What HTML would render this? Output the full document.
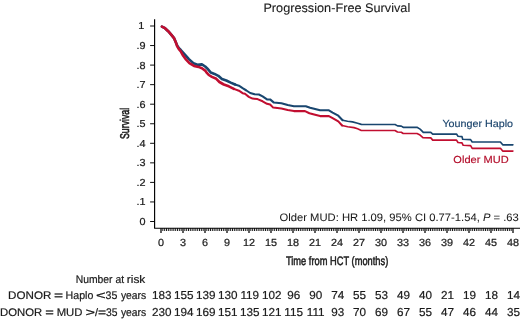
<!DOCTYPE html>
<html lang="en"><head><meta charset="utf-8"><title>Progression-Free Survival</title>
<style>html,body{margin:0;padding:0;background:#fff}body{width:520px;height:319px;overflow:hidden}</style></head>
<body>
<svg width="520" height="319" viewBox="0 0 520 319" style="display:block">
<rect width="520" height="319" fill="#fff"/>
<g font-family="'Liberation Sans', Arial, Helvetica, sans-serif" stroke-linejoin="round" text-rendering="geometricPrecision">
<text transform="translate(336.80,12.30) scale(0.1240,0.1240)" font-size="100" text-anchor="middle" textLength="1183.9" lengthAdjust="spacingAndGlyphs" fill="#1a1a1a" stroke="#1a1a1a" stroke-width="0.81">Progression-Free Survival</text>
<path d="M154.6 19.3V228.2H520" fill="none" stroke="#000" stroke-width="1.15"/>
<path d="M150.1 221.50H154.6M150.1 201.95H154.6M150.1 182.40H154.6M150.1 162.85H154.6M150.1 143.30H154.6M150.1 123.75H154.6M150.1 104.20H154.6M150.1 84.65H154.6M150.1 65.10H154.6M150.1 45.55H154.6M150.1 26.00H154.6" stroke="#000" stroke-width="0.95" fill="none"/>
<text transform="translate(145.50,224.95) scale(0.1081,0.1020)" font-size="100" text-anchor="end" fill="#1a1a1a" stroke="#1a1a1a" stroke-width="2.16">0</text>
<text transform="translate(145.50,205.40) scale(0.1081,0.1020)" font-size="100" text-anchor="end" fill="#1a1a1a" stroke="#1a1a1a" stroke-width="2.16">.1</text>
<text transform="translate(145.50,185.85) scale(0.1081,0.1020)" font-size="100" text-anchor="end" fill="#1a1a1a" stroke="#1a1a1a" stroke-width="2.16">.2</text>
<text transform="translate(145.50,166.30) scale(0.1081,0.1020)" font-size="100" text-anchor="end" fill="#1a1a1a" stroke="#1a1a1a" stroke-width="2.16">.3</text>
<text transform="translate(145.50,146.75) scale(0.1081,0.1020)" font-size="100" text-anchor="end" fill="#1a1a1a" stroke="#1a1a1a" stroke-width="2.16">.4</text>
<text transform="translate(145.50,127.20) scale(0.1081,0.1020)" font-size="100" text-anchor="end" fill="#1a1a1a" stroke="#1a1a1a" stroke-width="2.16">.5</text>
<text transform="translate(145.50,107.65) scale(0.1081,0.1020)" font-size="100" text-anchor="end" fill="#1a1a1a" stroke="#1a1a1a" stroke-width="2.16">.6</text>
<text transform="translate(145.50,88.10) scale(0.1081,0.1020)" font-size="100" text-anchor="end" fill="#1a1a1a" stroke="#1a1a1a" stroke-width="2.16">.7</text>
<text transform="translate(145.50,68.55) scale(0.1081,0.1020)" font-size="100" text-anchor="end" fill="#1a1a1a" stroke="#1a1a1a" stroke-width="2.16">.8</text>
<text transform="translate(145.50,49.00) scale(0.1081,0.1020)" font-size="100" text-anchor="end" fill="#1a1a1a" stroke="#1a1a1a" stroke-width="2.16">.9</text>
<text transform="translate(144.20,29.45) scale(0.1081,0.1020)" font-size="100" text-anchor="end" fill="#1a1a1a" stroke="#1a1a1a" stroke-width="2.16">1</text>
<path d="M162.83 228.2V231.0M164.67 228.2V231.0M166.50 228.2V231.0M168.33 228.2V231.0M170.17 228.2V231.0M172.00 228.2V231.0M173.83 228.2V231.0M175.67 228.2V231.0M177.50 228.2V231.0M179.33 228.2V231.0M181.17 228.2V231.0M184.83 228.2V231.0M186.67 228.2V231.0M188.50 228.2V231.0M190.33 228.2V231.0M192.17 228.2V231.0M194.00 228.2V231.0M195.83 228.2V231.0M197.67 228.2V231.0M199.50 228.2V231.0M201.33 228.2V231.0M203.17 228.2V231.0M206.83 228.2V231.0M208.67 228.2V231.0M210.50 228.2V231.0M212.33 228.2V231.0M214.17 228.2V231.0M216.00 228.2V231.0M217.83 228.2V231.0M219.67 228.2V231.0M221.50 228.2V231.0M223.33 228.2V231.0M225.17 228.2V231.0M228.83 228.2V231.0M230.67 228.2V231.0M232.50 228.2V231.0M234.33 228.2V231.0M236.17 228.2V231.0M238.00 228.2V231.0M239.83 228.2V231.0M241.67 228.2V231.0M243.50 228.2V231.0M245.33 228.2V231.0M247.17 228.2V231.0M250.83 228.2V231.0M252.67 228.2V231.0M254.50 228.2V231.0M256.33 228.2V231.0M258.17 228.2V231.0M260.00 228.2V231.0M261.83 228.2V231.0M263.67 228.2V231.0M265.50 228.2V231.0M267.33 228.2V231.0M269.17 228.2V231.0M272.83 228.2V231.0M274.67 228.2V231.0M276.50 228.2V231.0M278.33 228.2V231.0M280.17 228.2V231.0M282.00 228.2V231.0M283.83 228.2V231.0M285.67 228.2V231.0M287.50 228.2V231.0M289.33 228.2V231.0M291.17 228.2V231.0M294.83 228.2V231.0M296.67 228.2V231.0M298.50 228.2V231.0M300.33 228.2V231.0M302.17 228.2V231.0M304.00 228.2V231.0M305.83 228.2V231.0M307.67 228.2V231.0M309.50 228.2V231.0M311.33 228.2V231.0M313.17 228.2V231.0M316.83 228.2V231.0M318.67 228.2V231.0M320.50 228.2V231.0M322.33 228.2V231.0M324.17 228.2V231.0M326.00 228.2V231.0M327.83 228.2V231.0M329.67 228.2V231.0M331.50 228.2V231.0M333.33 228.2V231.0M335.17 228.2V231.0M338.83 228.2V231.0M340.67 228.2V231.0M342.50 228.2V231.0M344.33 228.2V231.0M346.17 228.2V231.0M348.00 228.2V231.0M349.83 228.2V231.0M351.67 228.2V231.0M353.50 228.2V231.0M355.33 228.2V231.0M357.17 228.2V231.0M360.83 228.2V231.0M362.67 228.2V231.0M364.50 228.2V231.0M366.33 228.2V231.0M368.17 228.2V231.0M370.00 228.2V231.0M371.83 228.2V231.0M373.67 228.2V231.0M375.50 228.2V231.0M377.33 228.2V231.0M379.17 228.2V231.0M382.83 228.2V231.0M384.67 228.2V231.0M386.50 228.2V231.0M388.33 228.2V231.0M390.17 228.2V231.0M392.00 228.2V231.0M393.83 228.2V231.0M395.67 228.2V231.0M397.50 228.2V231.0M399.33 228.2V231.0M401.17 228.2V231.0M404.83 228.2V231.0M406.67 228.2V231.0M408.50 228.2V231.0M410.33 228.2V231.0M412.17 228.2V231.0M414.00 228.2V231.0M415.83 228.2V231.0M417.67 228.2V231.0M419.50 228.2V231.0M421.33 228.2V231.0M423.17 228.2V231.0M426.83 228.2V231.0M428.67 228.2V231.0M430.50 228.2V231.0M432.33 228.2V231.0M434.17 228.2V231.0M436.00 228.2V231.0M437.83 228.2V231.0M439.67 228.2V231.0M441.50 228.2V231.0M443.33 228.2V231.0M445.17 228.2V231.0M448.83 228.2V231.0M450.67 228.2V231.0M452.50 228.2V231.0M454.33 228.2V231.0M456.17 228.2V231.0M458.00 228.2V231.0M459.83 228.2V231.0M461.67 228.2V231.0M463.50 228.2V231.0M465.33 228.2V231.0M467.17 228.2V231.0M470.83 228.2V231.0M472.67 228.2V231.0M474.50 228.2V231.0M476.33 228.2V231.0M478.17 228.2V231.0M480.00 228.2V231.0M481.83 228.2V231.0M483.67 228.2V231.0M485.50 228.2V231.0M487.33 228.2V231.0M489.17 228.2V231.0M492.83 228.2V231.0M494.67 228.2V231.0M496.50 228.2V231.0M498.33 228.2V231.0M500.17 228.2V231.0M502.00 228.2V231.0M503.83 228.2V231.0M505.67 228.2V231.0M507.50 228.2V231.0M509.33 228.2V231.0M511.17 228.2V231.0" stroke="#000" stroke-width="0.9" fill="none"/>
<path d="M161.00 228.2V233.0M183.00 228.2V233.0M205.00 228.2V233.0M227.00 228.2V233.0M249.00 228.2V233.0M271.00 228.2V233.0M293.00 228.2V233.0M315.00 228.2V233.0M337.00 228.2V233.0M359.00 228.2V233.0M381.00 228.2V233.0M403.00 228.2V233.0M425.00 228.2V233.0M447.00 228.2V233.0M469.00 228.2V233.0M491.00 228.2V233.0M513.00 228.2V233.0" stroke="#000" stroke-width="1.25" fill="none"/>
<text transform="translate(161.00,245.60) scale(0.1082,0.1040)" font-size="100" text-anchor="middle" fill="#1a1a1a" stroke="#1a1a1a" stroke-width="2.12">0</text>
<text transform="translate(183.00,245.60) scale(0.1082,0.1040)" font-size="100" text-anchor="middle" fill="#1a1a1a" stroke="#1a1a1a" stroke-width="2.12">3</text>
<text transform="translate(205.00,245.60) scale(0.1082,0.1040)" font-size="100" text-anchor="middle" fill="#1a1a1a" stroke="#1a1a1a" stroke-width="2.12">6</text>
<text transform="translate(227.00,245.60) scale(0.1082,0.1040)" font-size="100" text-anchor="middle" fill="#1a1a1a" stroke="#1a1a1a" stroke-width="2.12">9</text>
<text transform="translate(249.00,245.60) scale(0.1082,0.1040)" font-size="100" text-anchor="middle" fill="#1a1a1a" stroke="#1a1a1a" stroke-width="2.12">12</text>
<text transform="translate(271.00,245.60) scale(0.1082,0.1040)" font-size="100" text-anchor="middle" fill="#1a1a1a" stroke="#1a1a1a" stroke-width="2.12">15</text>
<text transform="translate(293.00,245.60) scale(0.1082,0.1040)" font-size="100" text-anchor="middle" fill="#1a1a1a" stroke="#1a1a1a" stroke-width="2.12">18</text>
<text transform="translate(315.00,245.60) scale(0.1082,0.1040)" font-size="100" text-anchor="middle" fill="#1a1a1a" stroke="#1a1a1a" stroke-width="2.12">21</text>
<text transform="translate(337.00,245.60) scale(0.1082,0.1040)" font-size="100" text-anchor="middle" fill="#1a1a1a" stroke="#1a1a1a" stroke-width="2.12">24</text>
<text transform="translate(359.00,245.60) scale(0.1082,0.1040)" font-size="100" text-anchor="middle" fill="#1a1a1a" stroke="#1a1a1a" stroke-width="2.12">27</text>
<text transform="translate(381.00,245.60) scale(0.1082,0.1040)" font-size="100" text-anchor="middle" fill="#1a1a1a" stroke="#1a1a1a" stroke-width="2.12">30</text>
<text transform="translate(403.00,245.60) scale(0.1082,0.1040)" font-size="100" text-anchor="middle" fill="#1a1a1a" stroke="#1a1a1a" stroke-width="2.12">33</text>
<text transform="translate(425.00,245.60) scale(0.1082,0.1040)" font-size="100" text-anchor="middle" fill="#1a1a1a" stroke="#1a1a1a" stroke-width="2.12">36</text>
<text transform="translate(447.00,245.60) scale(0.1082,0.1040)" font-size="100" text-anchor="middle" fill="#1a1a1a" stroke="#1a1a1a" stroke-width="2.12">39</text>
<text transform="translate(469.00,245.60) scale(0.1082,0.1040)" font-size="100" text-anchor="middle" fill="#1a1a1a" stroke="#1a1a1a" stroke-width="2.12">42</text>
<text transform="translate(491.00,245.60) scale(0.1082,0.1040)" font-size="100" text-anchor="middle" fill="#1a1a1a" stroke="#1a1a1a" stroke-width="2.12">45</text>
<text transform="translate(513.00,245.60) scale(0.1082,0.1040)" font-size="100" text-anchor="middle" fill="#1a1a1a" stroke="#1a1a1a" stroke-width="2.12">48</text>
<text transform="translate(128.50,123.40) rotate(-90) scale(0.1270,0.1270)" font-size="100" text-anchor="middle" textLength="245.7" lengthAdjust="spacingAndGlyphs" fill="#1a1a1a" stroke="#1a1a1a" stroke-width="4.72">Survival</text>
<text transform="translate(337.10,265.00) scale(0.1220,0.1220)" font-size="100" text-anchor="middle" textLength="839.3" lengthAdjust="spacingAndGlyphs" fill="#1a1a1a" stroke="#1a1a1a" stroke-width="4.10">Time from HCT (months)</text>
<text transform="translate(518.80,221.00) scale(0.1080,0.1080)" font-size="100" text-anchor="end" textLength="2215.7" lengthAdjust="spacingAndGlyphs" fill="#1a1a1a" stroke="#1a1a1a" stroke-width="0.46">Older MUD: HR 1.09, 95% CI 0.77-1.54, <tspan font-style="italic">P</tspan> = .63</text>
<polyline points="161.9,26.6 165.0,28.2 168.2,31.2 171.4,34.9 174.2,38.4 175.9,42.4 177.3,45.8 179.0,48.3 180.8,50.0 184.9,54.6 188.9,59.1 193.4,63.1 197.3,64.8 201.9,64.4 205.2,66.5 207.5,68.7 210.8,72.6 214.5,73.9 218.3,75.8 221.9,79.0 226.3,80.5 230.7,82.6 235.1,84.5" fill="none" stroke="#19466f" stroke-width="2.6" stroke-linejoin="round" stroke-linecap="round"/>
<polyline points="235.1,84.5 238.9,85.7 242.6,88.2 246.4,90.5 250.2,93.0 254.6,94.3 258.9,94.5 262.6,96.3 267.0,99.4 270.1,99.4 273.9,102.6 281.4,103.2 287.7,105.1 293.9,106.2 305.8,106.2 310.1,107.8 315.1,109.1 320.1,110.3 328.9,110.3 332.6,112.6 338.3,115.7 342.6,120.2" fill="none" stroke="#19466f" stroke-width="2.05" stroke-linejoin="round" stroke-linecap="round"/>
<polyline points="342.6,120.2 347.6,121.3 352.5,121.9 357.6,123.2 361.3,124.4 395.1,124.5 397.5,125.9 401.3,126.1 403.2,127.3 417.0,127.3 420.1,129.1 423.3,132.3 430.8,132.3 432.7,134.1 456.5,134.1 458.0,136.2 462.0,136.6 462.7,139.3 470.6,139.6 472.2,142.0 500.4,142.0 502.7,144.8 512.9,144.8" fill="none" stroke="#19466f" stroke-width="1.65" stroke-linejoin="round" stroke-linecap="round"/>
<polyline points="161.9,26.6 165.0,28.2 168.2,31.2 171.4,34.9 174.2,38.4 175.9,42.6 177.1,46.2 178.7,48.9 181.0,51.8 183.2,55.8 186.1,59.7 189.4,63.1 194.0,65.9 198.5,66.9 201.9,68.2 205.2,70.6 206.4,72.3 208.8,75.0 211.9,76.9 216.3,78.8 219.4,82.0 223.8,84.5 228.8,86.3 233.9,88.9" fill="none" stroke="#c10e30" stroke-width="2.6" stroke-linejoin="round" stroke-linecap="round"/>
<polyline points="233.9,88.9 238.9,90.7 242.6,93.2 245.0,93.8 248.8,96.9 252.5,98.6 257.5,99.1 262.6,101.3 267.0,103.8 270.1,104.5 273.2,107.6 281.4,108.6 287.7,110.1 293.9,111.1 305.0,111.1 309.4,113.2 315.1,114.7 320.1,116.1 328.9,116.1 332.6,118.2 338.3,121.4 342.1,125.5" fill="none" stroke="#c10e30" stroke-width="2.05" stroke-linejoin="round" stroke-linecap="round"/>
<polyline points="342.1,125.5 347.7,126.8 354.0,127.6 357.6,128.8 361.3,130.5 395.0,130.5 397.5,132.0 401.3,132.3 403.2,133.5 417.0,133.5 420.1,135.1 422.9,137.6 430.8,137.9 432.7,140.1 456.5,140.1 458.0,142.5 462.0,142.9 463.2,145.3 470.6,145.6 472.2,148.3 500.4,148.3 502.7,151.1 512.9,151.1" fill="none" stroke="#c10e30" stroke-width="1.65" stroke-linejoin="round" stroke-linecap="round"/>
<text transform="translate(442.40,126.80) scale(0.1030,0.1030)" font-size="100" textLength="685.4" lengthAdjust="spacingAndGlyphs" fill="#1b446c" stroke="#1b446c" stroke-width="1.55">Younger Haplo</text>
<text transform="translate(453.30,162.80) scale(0.1030,0.1030)" font-size="100" textLength="537.9" lengthAdjust="spacingAndGlyphs" fill="#b40f2c" stroke="#b40f2c" stroke-width="1.55">Older MUD</text>
<text transform="translate(75.68,283.00) scale(0.1034,0.1100)" font-size="100" fill="#1a1a1a" stroke="#1a1a1a" stroke-width="1.82">Number</text>
<text transform="translate(115.50,283.00) scale(0.1034,0.1100)" font-size="100" fill="#1a1a1a" stroke="#1a1a1a" stroke-width="1.82">at</text>
<text transform="translate(126.83,283.00) scale(0.1188,0.1100)" font-size="100" fill="#1a1a1a" stroke="#1a1a1a" stroke-width="1.82">risk</text>
<text transform="translate(7.97,299.20) scale(0.1166,0.1100)" font-size="100" fill="#1a1a1a" stroke="#1a1a1a" stroke-width="1.82">DONOR</text>
<text transform="translate(53.92,299.20) scale(0.1563,0.1100)" font-size="100" fill="#1a1a1a" stroke="#1a1a1a" stroke-width="1.82">=</text>
<text transform="translate(65.60,299.20) scale(0.1064,0.1100)" font-size="100" fill="#1a1a1a" stroke="#1a1a1a" stroke-width="1.82">Haplo</text>
<text transform="translate(95.97,299.20) scale(0.1653,0.1100)" font-size="100" fill="#1a1a1a" stroke="#1a1a1a" stroke-width="1.82">&lt;</text>
<text transform="translate(105.62,299.20) scale(0.1068,0.1100)" font-size="100" fill="#1a1a1a" stroke="#1a1a1a" stroke-width="1.82">35</text>
<text transform="translate(120.89,299.20) scale(0.1034,0.1100)" font-size="100" fill="#1a1a1a" stroke="#1a1a1a" stroke-width="1.82">years</text>
<text transform="translate(-0.06,316.10) scale(0.1136,0.1100)" font-size="100" fill="#1a1a1a" stroke="#1a1a1a" stroke-width="1.82">DONOR</text>
<text transform="translate(45.36,316.10) scale(0.1479,0.1100)" font-size="100" fill="#1a1a1a" stroke="#1a1a1a" stroke-width="1.82">=</text>
<text transform="translate(56.64,316.10) scale(0.1135,0.1100)" font-size="100" fill="#1a1a1a" stroke="#1a1a1a" stroke-width="1.82">MUD</text>
<text transform="translate(85.48,316.10) scale(0.1633,0.1100)" font-size="100" fill="#1a1a1a" stroke="#1a1a1a" stroke-width="1.82">&gt;</text>
<text transform="translate(95.05,316.10) scale(0.1111,0.1100)" font-size="100" fill="#1a1a1a" stroke="#1a1a1a" stroke-width="1.82">/</text>
<text transform="translate(98.10,316.10) scale(0.1396,0.1100)" font-size="100" fill="#1a1a1a" stroke="#1a1a1a" stroke-width="1.82">=</text>
<text transform="translate(106.01,316.10) scale(0.1034,0.1100)" font-size="100" fill="#1a1a1a" stroke="#1a1a1a" stroke-width="1.82">35</text>
<text transform="translate(120.89,316.10) scale(0.1034,0.1100)" font-size="100" fill="#1a1a1a" stroke="#1a1a1a" stroke-width="1.82">years</text>
<text transform="translate(161.85,299.30) scale(0.1173,0.1150)" font-size="100" text-anchor="middle" fill="#1a1a1a" stroke="#1a1a1a" stroke-width="1.74">183</text>
<text transform="translate(161.85,316.20) scale(0.1173,0.1150)" font-size="100" text-anchor="middle" fill="#1a1a1a" stroke="#1a1a1a" stroke-width="1.74">230</text>
<text transform="translate(183.82,299.30) scale(0.1173,0.1150)" font-size="100" text-anchor="middle" fill="#1a1a1a" stroke="#1a1a1a" stroke-width="1.74">155</text>
<text transform="translate(183.82,316.20) scale(0.1173,0.1150)" font-size="100" text-anchor="middle" fill="#1a1a1a" stroke="#1a1a1a" stroke-width="1.74">194</text>
<text transform="translate(205.80,299.30) scale(0.1173,0.1150)" font-size="100" text-anchor="middle" fill="#1a1a1a" stroke="#1a1a1a" stroke-width="1.74">139</text>
<text transform="translate(205.80,316.20) scale(0.1173,0.1150)" font-size="100" text-anchor="middle" fill="#1a1a1a" stroke="#1a1a1a" stroke-width="1.74">169</text>
<text transform="translate(227.78,299.30) scale(0.1173,0.1150)" font-size="100" text-anchor="middle" fill="#1a1a1a" stroke="#1a1a1a" stroke-width="1.74">130</text>
<text transform="translate(227.78,316.20) scale(0.1173,0.1150)" font-size="100" text-anchor="middle" fill="#1a1a1a" stroke="#1a1a1a" stroke-width="1.74">151</text>
<text transform="translate(249.75,299.30) scale(0.1173,0.1150)" font-size="100" text-anchor="middle" fill="#1a1a1a" stroke="#1a1a1a" stroke-width="1.74">119</text>
<text transform="translate(249.75,316.20) scale(0.1173,0.1150)" font-size="100" text-anchor="middle" fill="#1a1a1a" stroke="#1a1a1a" stroke-width="1.74">135</text>
<text transform="translate(271.73,299.30) scale(0.1173,0.1150)" font-size="100" text-anchor="middle" fill="#1a1a1a" stroke="#1a1a1a" stroke-width="1.74">102</text>
<text transform="translate(271.73,316.20) scale(0.1173,0.1150)" font-size="100" text-anchor="middle" fill="#1a1a1a" stroke="#1a1a1a" stroke-width="1.74">121</text>
<text transform="translate(293.70,299.30) scale(0.1173,0.1150)" font-size="100" text-anchor="middle" fill="#1a1a1a" stroke="#1a1a1a" stroke-width="1.74">96</text>
<text transform="translate(293.70,316.20) scale(0.1173,0.1150)" font-size="100" text-anchor="middle" fill="#1a1a1a" stroke="#1a1a1a" stroke-width="1.74">115</text>
<text transform="translate(315.68,299.30) scale(0.1173,0.1150)" font-size="100" text-anchor="middle" fill="#1a1a1a" stroke="#1a1a1a" stroke-width="1.74">90</text>
<text transform="translate(315.68,316.20) scale(0.1173,0.1150)" font-size="100" text-anchor="middle" fill="#1a1a1a" stroke="#1a1a1a" stroke-width="1.74">111</text>
<text transform="translate(337.65,299.30) scale(0.1173,0.1150)" font-size="100" text-anchor="middle" fill="#1a1a1a" stroke="#1a1a1a" stroke-width="1.74">74</text>
<text transform="translate(337.65,316.20) scale(0.1173,0.1150)" font-size="100" text-anchor="middle" fill="#1a1a1a" stroke="#1a1a1a" stroke-width="1.74">93</text>
<text transform="translate(359.62,299.30) scale(0.1173,0.1150)" font-size="100" text-anchor="middle" fill="#1a1a1a" stroke="#1a1a1a" stroke-width="1.74">55</text>
<text transform="translate(359.62,316.20) scale(0.1173,0.1150)" font-size="100" text-anchor="middle" fill="#1a1a1a" stroke="#1a1a1a" stroke-width="1.74">70</text>
<text transform="translate(381.60,299.30) scale(0.1173,0.1150)" font-size="100" text-anchor="middle" fill="#1a1a1a" stroke="#1a1a1a" stroke-width="1.74">53</text>
<text transform="translate(381.60,316.20) scale(0.1173,0.1150)" font-size="100" text-anchor="middle" fill="#1a1a1a" stroke="#1a1a1a" stroke-width="1.74">69</text>
<text transform="translate(403.58,299.30) scale(0.1173,0.1150)" font-size="100" text-anchor="middle" fill="#1a1a1a" stroke="#1a1a1a" stroke-width="1.74">49</text>
<text transform="translate(403.58,316.20) scale(0.1173,0.1150)" font-size="100" text-anchor="middle" fill="#1a1a1a" stroke="#1a1a1a" stroke-width="1.74">67</text>
<text transform="translate(425.55,299.30) scale(0.1173,0.1150)" font-size="100" text-anchor="middle" fill="#1a1a1a" stroke="#1a1a1a" stroke-width="1.74">40</text>
<text transform="translate(425.55,316.20) scale(0.1173,0.1150)" font-size="100" text-anchor="middle" fill="#1a1a1a" stroke="#1a1a1a" stroke-width="1.74">55</text>
<text transform="translate(447.52,299.30) scale(0.1173,0.1150)" font-size="100" text-anchor="middle" fill="#1a1a1a" stroke="#1a1a1a" stroke-width="1.74">21</text>
<text transform="translate(447.52,316.20) scale(0.1173,0.1150)" font-size="100" text-anchor="middle" fill="#1a1a1a" stroke="#1a1a1a" stroke-width="1.74">47</text>
<text transform="translate(469.50,299.30) scale(0.1173,0.1150)" font-size="100" text-anchor="middle" fill="#1a1a1a" stroke="#1a1a1a" stroke-width="1.74">19</text>
<text transform="translate(469.50,316.20) scale(0.1173,0.1150)" font-size="100" text-anchor="middle" fill="#1a1a1a" stroke="#1a1a1a" stroke-width="1.74">46</text>
<text transform="translate(491.48,299.30) scale(0.1173,0.1150)" font-size="100" text-anchor="middle" fill="#1a1a1a" stroke="#1a1a1a" stroke-width="1.74">18</text>
<text transform="translate(491.48,316.20) scale(0.1173,0.1150)" font-size="100" text-anchor="middle" fill="#1a1a1a" stroke="#1a1a1a" stroke-width="1.74">44</text>
<text transform="translate(513.45,299.30) scale(0.1173,0.1150)" font-size="100" text-anchor="middle" fill="#1a1a1a" stroke="#1a1a1a" stroke-width="1.74">14</text>
<text transform="translate(513.45,316.20) scale(0.1173,0.1150)" font-size="100" text-anchor="middle" fill="#1a1a1a" stroke="#1a1a1a" stroke-width="1.74">35</text>
</g></svg>
</body></html>
